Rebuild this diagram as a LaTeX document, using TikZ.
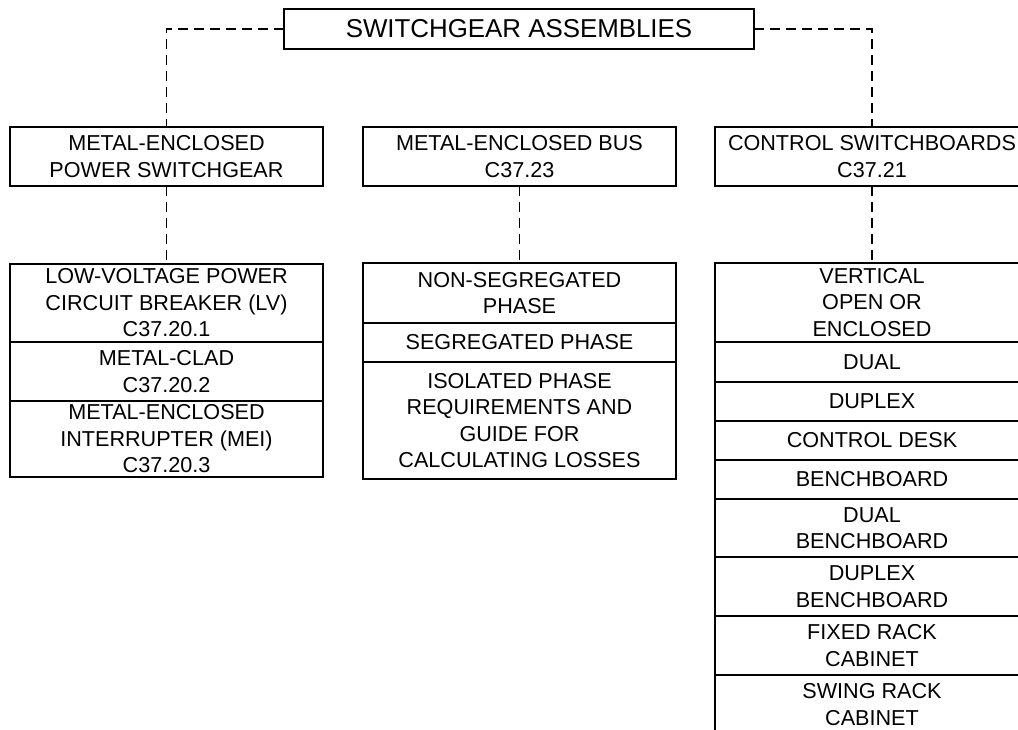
\documentclass[tikz,border=0pt]{standalone}
\usepackage{fontspec}
\setmainfont{Liberation Sans}
\begin{document}
\begin{tikzpicture}[x=0.75pt,y=-0.75pt,
  box/.style={draw=black, line width=1.15pt, inner sep=0pt, outer sep=0pt, align=center,
    font=\fontsize{16.2pt}{19.9pt}\selectfont},
  colw/.style={minimum width=234.75pt},
  rcolw/.style={minimum width=235.5pt},
  conn/.style={draw=black, line width=1pt, dash pattern=on 7.5pt off 4.5pt}]
\useasboundingbox (0,0) rectangle (1018,730);
\clip (0,0) rectangle (1018,730);
\fill[white] (0,0) rectangle (1018,730);

% top
\node[box, minimum width=352.5pt, minimum height=30pt, font=\fontsize{19.4pt}{23pt}\selectfont] (top) at (519,29) {SWITCHGEAR ASSEMBLIES};

% left column
\node[box, colw, minimum height=44.25pt] (L1) at (166.5,156.5) {METAL-ENCLOSED\\POWER SWITCHGEAR};
\node[box, colw, minimum height=58.5pt] (La) at (166.5,303) {LOW-VOLTAGE POWER\\CIRCUIT BREAKER (LV)\\C37.20.1};
\node[box, colw, minimum height=44.25pt] (Lb) at (166.5,371.5) {METAL-CLAD\\C37.20.2};
\node[box, colw, minimum height=57pt] (Lc) at (166.5,439) {METAL-ENCLOSED\\INTERRUPTER (MEI)\\C37.20.3};

% middle column
\node[box, colw, minimum height=44.25pt] (M1) at (519.5,156.5) {METAL-ENCLOSED BUS\\C37.23};
\node[box, colw, minimum height=45pt] (Ma) at (519.5,293) {NON-SEGREGATED\\PHASE};
\node[box, colw, minimum height=29.25pt] (Mb) at (519.5,342.5) {SEGREGATED PHASE};
\node[box, colw, minimum height=87.75pt] (Mc) at (519.5,420.5) {ISOLATED PHASE\\REQUIREMENTS AND\\GUIDE FOR\\CALCULATING LOSSES};

% right column
\node[box, rcolw, minimum height=44.25pt] (R1) at (872,156.5) {CONTROL SWITCHBOARDS\\C37.21};
\node[box, rcolw, minimum height=59.25pt] (Ra) at (872,302.5) {VERTICAL\\OPEN OR\\ENCLOSED};
\node[box, rcolw, minimum height=30pt] (Rb) at (872,362) {DUAL};
\node[box, rcolw, minimum height=29.25pt] (Rc) at (872,401.5) {DUPLEX};
\node[box, rcolw, minimum height=29.25pt] (Rd) at (872,440.5) {CONTROL DESK};
\node[box, rcolw, minimum height=29.25pt] (Re) at (872,479.5) {BENCHBOARD};
\node[box, rcolw, minimum height=43.5pt] (Rf) at (872,528) {DUAL\\BENCHBOARD};
\node[box, rcolw, minimum height=44.25pt] (Rg) at (872,586.5) {DUPLEX\\BENCHBOARD};
\node[box, rcolw, minimum height=44.25pt] (Rh) at (872,645.5) {FIXED RACK\\CABINET};
\node[box, rcolw, minimum height=44.25pt] (Ri) at (872,704.5) {SWING RACK\\CABINET};

% connectors
\draw[conn] (top.west) -| (L1.north);
\draw[conn] (top.east) -| (R1.north);
\draw[conn] (L1.south) -- (La.north);
\draw[conn] (M1.south) -- (Ma.north);
\draw[conn] (R1.south) -- (Ra.north);
\end{tikzpicture}
\end{document}
